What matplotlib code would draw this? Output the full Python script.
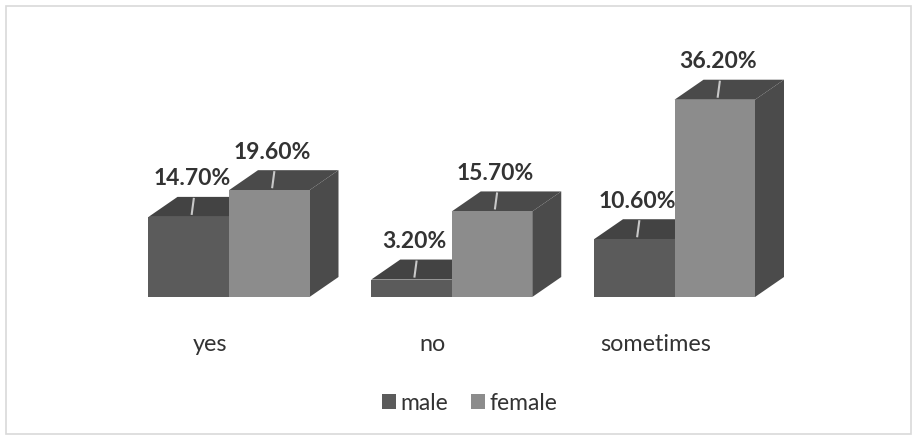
import matplotlib
matplotlib.use("Agg")
import matplotlib.pyplot as plt
from matplotlib.patches import Polygon, Rectangle
from matplotlib.transforms import ScaledTranslation
import numpy as np

categories = ["yes", "no", "sometimes"]
series_names = ["male", "female"]
male = [14.7, 3.2, 10.6]
female = [19.6, 15.7, 36.2]
label_text = ["14.70%", "3.20%", "10.60%", "19.60%", "15.70%", "36.20%"]

front_colors = ["#5b5b5b", "#8c8c8c"]
top_colors = ["#434343", "#4a4a4a"]
side_colors = ["#3f3f3f", "#4b4b4b"]
text_color = "#333333"

W, H = 916, 438
fig = plt.figure(figsize=(W / 100, H / 100), dpi=100)
fig.patch.set_facecolor("white")
fig.add_artist(Rectangle((6 / W, 4 / H), 905 / W, 428 / H, transform=fig.transFigure,
                         fill=False, edgecolor="#d9d9d9", linewidth=1.2))

ax = fig.add_axes([95.35 / W, (438 - 297) / H, 712.8 / W, 218 / H])
ax.set_xlim(-0.6, 2.6)
ax.set_ylim(0, 40)
ax.axis("off")

bw = 80.5 / 222.75
dx, dy = 0.29, 0.20  # depth offset in inches
off = ax.transData + ScaledTranslation(dx, dy, fig.dpi_scale_trans)
x = np.arange(len(categories))

series = [male, female]
handles = [None, None]
for s in [1, 0]:
    vals = series[s]
    xs = x - bw / 2 + s * bw
    for xi, v in zip(xs, vals):
        l, r = xi - bw / 2, xi + bw / 2
        p0 = ax.transData.transform([(r, 0), (r, v)])
        p1 = off.transform([(r, v), (r, 0)])
        ax.add_artist(Polygon(np.vstack([p0, p1]), closed=True, transform=None,
                              facecolor=side_colors[s], edgecolor="none", zorder=2 + s))
        q0 = ax.transData.transform([(l, v), (r, v)])
        q1 = off.transform([(r, v), (l, v)])
        ax.add_artist(Polygon(np.vstack([q0, q1]), closed=True, transform=None,
                              facecolor=top_colors[s], edgecolor="none", zorder=2 + s))
    handles[s] = ax.bar(xs, vals, width=bw, color=front_colors[s], edgecolor="none",
                        zorder=3 + s, label=series_names[s])

for s in range(2):
    vals = series[s]
    xs = x - bw / 2 + s * bw
    for i, (xi, v) in enumerate(zip(xs, vals)):
        lab = label_text[s * 3 + i]
        base = ax.transData.transform((xi, v))
        a = base + np.array([3, 3])
        b = base + np.array([5, 18])
        ax.plot([a[0], b[0]], [a[1], b[1]], transform=None, color="#c8c8c8",
                lw=1.5, zorder=6)
        ax.text(base[0] + 3, base[1] + 38, lab, transform=None, ha="center",
                va="center", fontsize=16.5, fontweight="bold", family="Lato",
                color=text_color, zorder=7)

for xi, c in zip(x, categories):
    ax.text(xi - 0.085, -8.8, c, ha="center", va="center", fontsize=16.8,
            family="Lato", color=text_color, clip_on=False)

fig.legend(handles, series_names, loc="center", bbox_to_anchor=(470 / W, 1 - 403 / H),
           ncol=2, frameon=False, prop={"family": "Lato", "size": 16.5},
           handlelength=0.6, handleheight=0.6, handletextpad=0.2,
           columnspacing=1.0, labelcolor=text_color)

fig.savefig("out.png", dpi=100)
